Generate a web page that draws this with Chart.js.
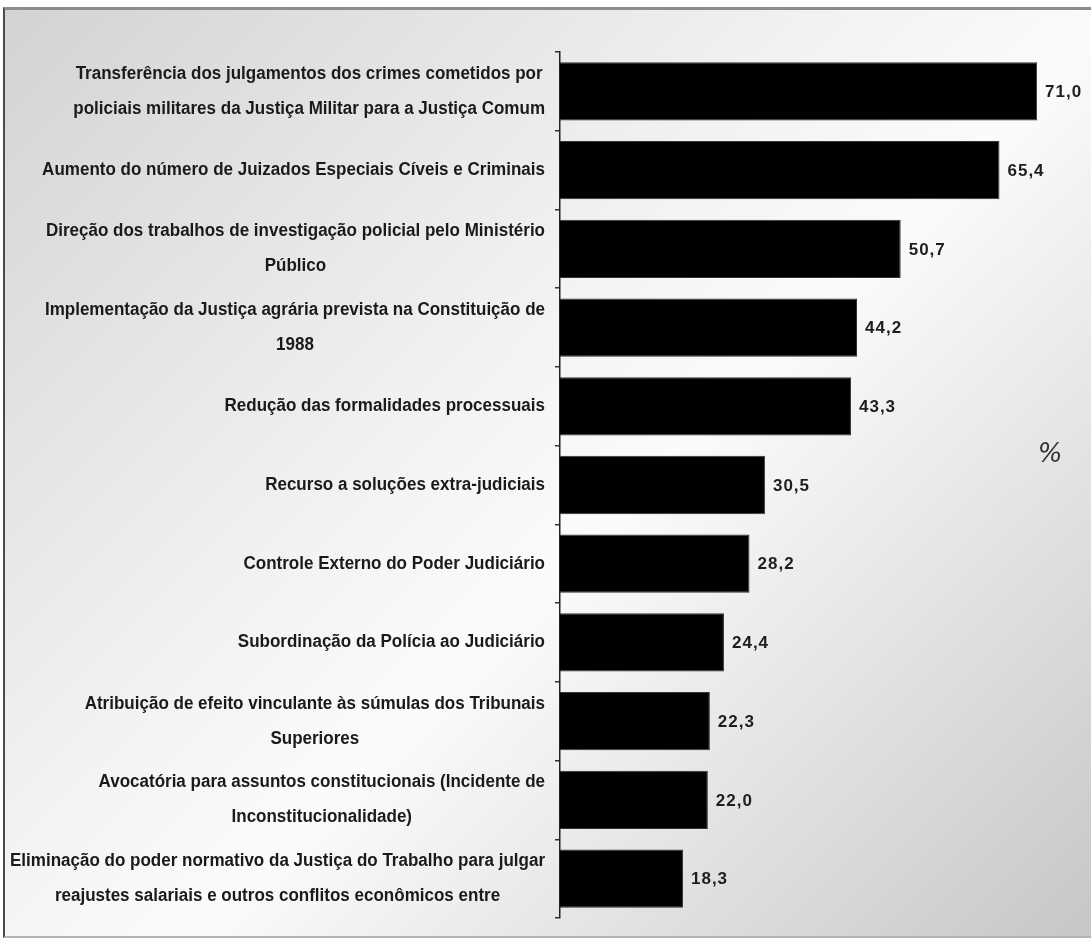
<!DOCTYPE html>
<html>
<head>
<meta charset="utf-8">
<script src="https://cdn.jsdelivr.net/npm/chart.js@4"></script>
<style>
  html, body { margin: 0; padding: 0; background: #fff; overflow: hidden; }
  #frame {
    position: absolute; left: 3px; top: 7px; width: 1095px; height: 926px;
    border-top: 3px solid #8c8c8c; border-left: 2px solid #4a4a4a; border-bottom: 2px solid #b4b4b4;
    background: linear-gradient(135deg, #d3d3d3 0%, #f3f3f3 42%, #fbfbfb 55%, #c6c6c6 100%);
  }
  #chart { position: absolute; left: 0; top: 0; }
</style>
</head>
<body>
<div id="frame"></div>
<canvas id="chart" width="1091" height="938"></canvas>
<script>
// Category labels (each entry is a list of lines)
const categories = [
  ['Transferência dos julgamentos dos crimes cometidos por', 'policiais militares da Justiça Militar para a Justiça Comum'],
  ['Aumento do número de Juizados Especiais Cíveis e Criminais'],
  ['Direção dos trabalhos de investigação policial pelo Ministério', 'Público'],
  ['Implementação da Justiça agrária prevista na Constituição de', '1988'],
  ['Redução das formalidades processuais'],
  ['Recurso a soluções extra-judiciais'],
  ['Controle Externo do Poder Judiciário'],
  ['Subordinação da Polícia ao Judiciário'],
  ['Atribuição de efeito vinculante às súmulas dos Tribunais', 'Superiores'],
  ['Avocatória para assuntos constitucionais (Incidente de', 'Inconstitucionalidade)'],
  ['Eliminação do poder normativo da Justiça do Trabalho para julgar', 'reajustes salariais e outros conflitos econômicos entre']
];

// Share of respondents in favour of each proposal (%)
const percentages = [71.0, 65.4, 50.7, 44.2, 43.3, 30.5, 28.2, 24.4, 22.3, 22.0, 18.3];

const unitLabel = '%';

const LABEL_FONT = 'bold 18px "Liberation Sans", Arial, sans-serif';
const LABEL_SQUEEZE = 0.945;   // narrow the label type horizontally
const VALUE_FONT = 'bold 17px "Liberation Sans", Arial, sans-serif';

// Draws the category text blocks, the value labels and the unit sign
const annotations = {
  id: 'annotations',
  afterDraw(chart) {
    const { ctx, chartArea, scales: { x, y } } = chart;
    ctx.save();
    ctx.fillStyle = '#1a1a1a';
    ctx.textBaseline = 'middle';

    // category labels: block right-aligned against the axis, lines centred inside the block
    ctx.font = LABEL_FONT;
    ctx.textAlign = 'center';
    const rightEdge = chartArea.left - 15;
    const lineHeight = 35;
    categories.forEach((lines, i) => {
      const cy = y.getPixelForValue(i);
      const blockWidth = LABEL_SQUEEZE * Math.max(...lines.map(l => ctx.measureText(l).width));
      const cx = rightEdge - blockWidth / 2;
      lines.forEach((line, j) => {
        ctx.save();
        ctx.translate(cx, cy + (j - (lines.length - 1) / 2) * lineHeight);
        ctx.scale(LABEL_SQUEEZE, 1);
        ctx.fillText(line, 0, 0);
        ctx.restore();
      });
    });

    // value labels at the end of each bar
    ctx.font = VALUE_FONT;
    ctx.textAlign = 'left';
    ctx.fillStyle = '#1e1e1e';
    ctx.letterSpacing = '1px';
    percentages.forEach((v, i) => {
      ctx.fillText(v.toFixed(1).replace('.', ','), x.getPixelForValue(v) + 8, y.getPixelForValue(i) + 1);
    });
    ctx.letterSpacing = '0px';

    // unit sign on the right
    ctx.font = 'italic 26px "DejaVu Sans", sans-serif';
    ctx.textAlign = 'center';
    ctx.fillStyle = '#333';
    ctx.fillText(unitLabel, chartArea.right - 14, 455);
    ctx.restore();
  }
};

new Chart(document.getElementById('chart'), {
  type: 'bar',
  data: {
    labels: categories,
    datasets: [{
      data: percentages,
      backgroundColor: '#000',
      borderColor: '#333',
      borderWidth: 1,
      barPercentage: 0.74,
      categoryPercentage: 1.0
    }]
  },
  options: {
    indexAxis: 'y',
    responsive: false,
    animation: false,
    devicePixelRatio: 1,
    layout: { padding: { top: 52, bottom: 20, left: 0, right: 27 } },
    plugins: { legend: { display: false }, tooltip: { enabled: false } },
    scales: {
      x: { display: false, min: 0, max: 75 },
      y: {
        position: 'left',
        ticks: { display: false },
        grid: { drawOnChartArea: false, drawTicks: true, tickLength: 5, color: '#333', lineWidth: 1.5 },
        border: { display: true, color: '#222', width: 1.5 },
        afterFit(scale) { scale.width = 560; }
      }
    }
  },
  plugins: [annotations]
});
</script>
</body>
</html>
